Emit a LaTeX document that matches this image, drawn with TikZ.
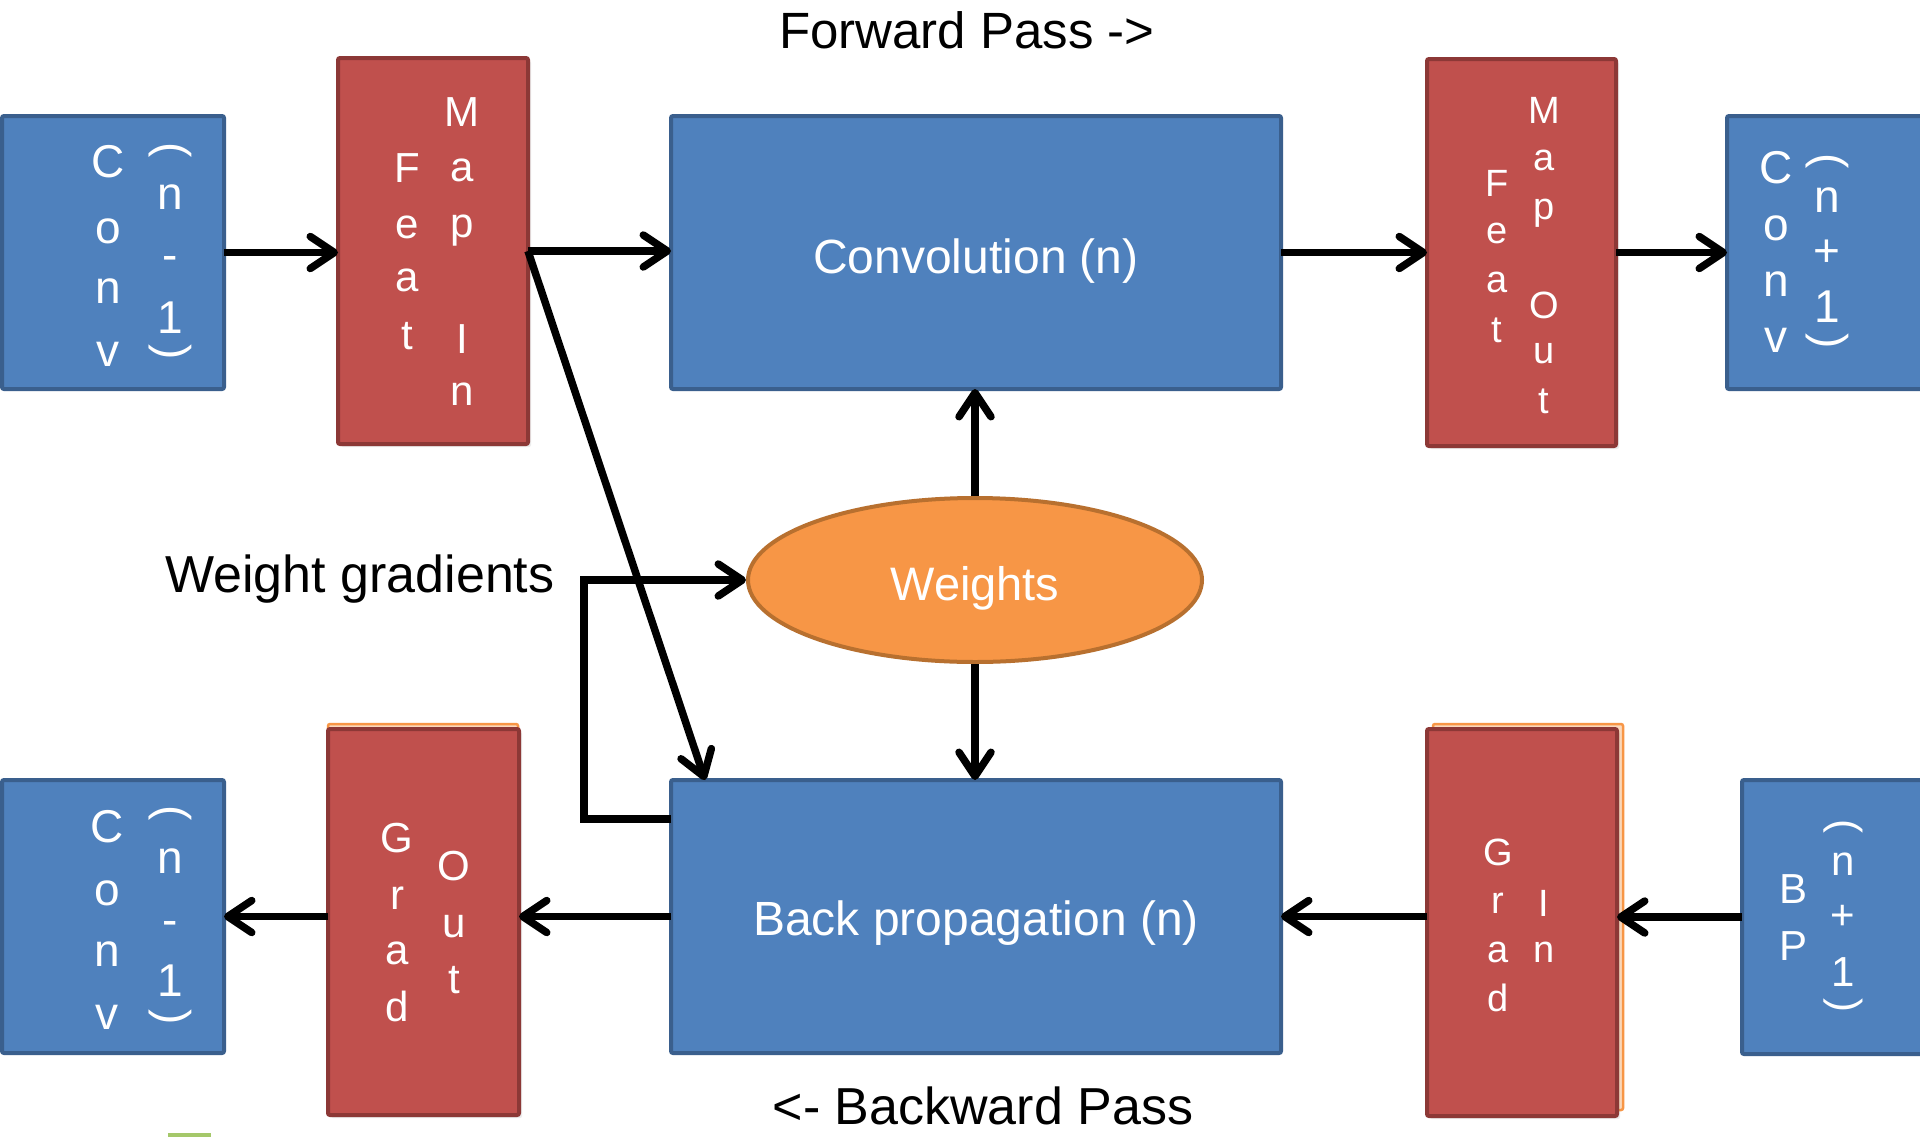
\documentclass[tikz,border=0pt]{standalone}
\usepackage{fontspec}
\setmainfont{Liberation Sans}
\usetikzlibrary{arrows.meta,shapes.geometric,calc,shadows}

\definecolor{boxblue}{HTML}{4F81BD}
\definecolor{boxblueline}{HTML}{3A5F8D}
\definecolor{mapred}{HTML}{C0504D}
\definecolor{mapredline}{HTML}{8C3836}
\definecolor{wfill}{HTML}{F79646}
\definecolor{wline}{HTML}{B8702F}
\definecolor{peach}{HTML}{FBD9BC}
\definecolor{leafgreen}{HTML}{A5C86A}

% rotated parentheses for stacked (vertical) lettering
\newcommand\vopen{\rotatebox[origin=c]{-90}{(}}
\newcommand\vclose{\rotatebox[origin=c]{-90}{)}}
% one column of stacked glyphs: name, font size, x, list of glyph/y
\newcommand\vcol[4]{%
  \foreach \g/\yy [count=\k] in {#4}
    \node[glyph, font=\fontsize{#2}{#2}\selectfont] (#1-\k) at (#3,\yy) {\g};}

\tikzset{
  block/.style={rectangle, rounded corners=2pt, line width=4pt, inner sep=0pt,
    outer sep=0pt, anchor=north west},
  conv/.style={block, fill=boxblue, draw=boxblueline},
  fmap/.style={block, fill=mapred, draw=mapredline,
    drop shadow={shadow xshift=3pt, shadow yshift=-3pt, opacity=0.15}},
  backing/.style={block, fill=peach, draw=wfill, line width=2.5pt},
  glyph/.style={text=white, inner sep=0pt, outer sep=0pt, anchor=center},
  boxlabel/.style={text=white, inner sep=0pt, anchor=base,
    font=\fontsize{48}{56}\selectfont},
  plainlabel/.style={text=black, inner sep=0pt,
    font=\fontsize{52}{60}\selectfont},
  arr/.style={line width=7.5pt, line join=miter,
    -{Straight Barb[length=24pt, width=32pt, round]}},
}

\begin{document}
\begin{tikzpicture}[x=1pt, y=-1pt]
\useasboundingbox (0,0) rectangle (1920,1136);
\clip (0,0) rectangle (1920,1136);
\fill[white] (0,0) rectangle (1920,1136);

% ---------- forward row ----------
\node[conv, minimum width=222pt, minimum height=273pt] (convA) at (2,116) {};
\node[fmap, minimum width=190pt, minimum height=386pt] (featIn) at (338,58) {};
\node[conv, minimum width=610pt, minimum height=273pt] (conv) at (671,116) {};
\node[fmap, minimum width=189pt, minimum height=387pt] (featOut) at (1427,59) {};
\node[conv, minimum width=260pt, minimum height=273pt] (convC) at (1727,116) {};

% ---------- weights ----------
\node[ellipse, fill=wfill, draw=wline, line width=4pt, inner sep=0pt,
      minimum width=454pt, minimum height=164pt] (w) at (975,580) {};

% ---------- backward row ----------
\node[conv, minimum width=222pt, minimum height=273pt] (convB) at (2,780) {};
\node[backing, minimum width=190pt, minimum height=385pt] (gradOutBack) at (328,724) {};
\node[fmap, minimum width=191pt, minimum height=386pt] (gradOut) at (328,729) {};
\node[conv, minimum width=610pt, minimum height=273pt] (bp) at (671,780) {};
\node[backing, minimum width=190pt, minimum height=386pt] (gradInBack) at (1433,724) {};
\node[fmap, minimum width=190pt, minimum height=387pt] (gradIn) at (1427,729) {};
\node[conv, minimum width=240pt, minimum height=274pt] (bpC) at (1742,780) {};

% small green mark along the lower edge
\fill[leafgreen] (168,1133) rectangle (211,1137);

% ---------- lettering inside the boxes ----------
\vcol{convA-a}{46}{108}{C/162,o/231,n/291,v/354}
\vcol{convA-b}{46}{170}{\vopen/152,n/197,-/263,1/318,\vclose/354}

\vcol{featIn-a}{42}{407}{F/168,e/227,a/280,t/336}
\vcol{featIn-b}{42}{462}{M/112,a/170,p/231,I/339,n/394}

\vcol{featOut-a}{38}{1497}{F/183,e/233,a/282,t/330}
\vcol{featOut-b}{38}{1544}{M/110,a/160,p/213,O/305,u/354,t/401}

\vcol{convC-a}{46}{1776}{C/168,o/228,n/284,v/340}
\vcol{convC-b}{46}{1827}{\vopen/163,n/200,+/253,1/307,\vclose/343}

\vcol{convB-a}{46}{107}{C/827,o/893,n/954,v/1017}
\vcol{convB-b}{46}{170}{\vopen/815,n/861,-/928,1/981,\vclose/1019}

\vcol{gradOut-a}{42}{397}{G/838,r/898,a/953,d/1006}
\vcol{gradOut-b}{42}{454}{O/866,u/927,t/980}

\vcol{gradIn-a}{38}{1498}{G/852,r/903,a/952,d/998}
\vcol{gradIn-b}{38}{1544}{I/903,n/952}

\vcol{bpC-a}{42}{1793}{B/889,P/946}
\vcol{bpC-b}{42}{1843}{\vopen/828,n/864,+/917,1/972,\vclose/1007}

\node[boxlabel] (convlbl) at (976,273) {Convolution (n)};
\node[boxlabel] (bplbl) at (976,935) {Back propagation (n)};
\node[boxlabel, font=\fontsize{47}{56}\selectfont] (wlbl) at (975,600) {Weights};

% ---------- free-standing labels ----------
\node[plainlabel, anchor=base, font=\fontsize{51}{60}\selectfont] (fwd) at (967,48) {Forward Pass ->};
\node[plainlabel, anchor=base west] (wg) at (165,592) {Weight gradients};
\node[plainlabel, anchor=base] (bwd) at (983,1124) {<- Backward Pass};

% ---------- connectors ----------
\draw[arr] (convA.east) -- (convA.east -| featIn.west);
\draw[arr] (featIn.east) -- (featIn.east -| conv.west);
\draw[arr] (conv.east) -- (conv.east -| featOut.west);
\draw[arr] (featOut.east) -- (featOut.east -| convC.west);

\draw[arr] (w.north) -- (w.north |- conv.south);
\draw[arr] (w.south) -- (w.south |- bp.north);

\draw[arr] (featIn.east) -- ($(bp.north west)+(34,0)$);
\draw[arr] ($(bp.north west)+(0,39)$) -- ++(-87,0) |- (w.west);

\draw[arr] (bp.west) -- (bp.west -| gradOut.east);
\draw[arr] (bp.west -| gradOut.west) -- (bp.west -| convB.east);
\draw[arr] (bpC.west) -- (bpC.west -| gradIn.east);
\draw[arr] (bp.east -| gradIn.west) -- (bp.east);
\end{tikzpicture}
\end{document}
